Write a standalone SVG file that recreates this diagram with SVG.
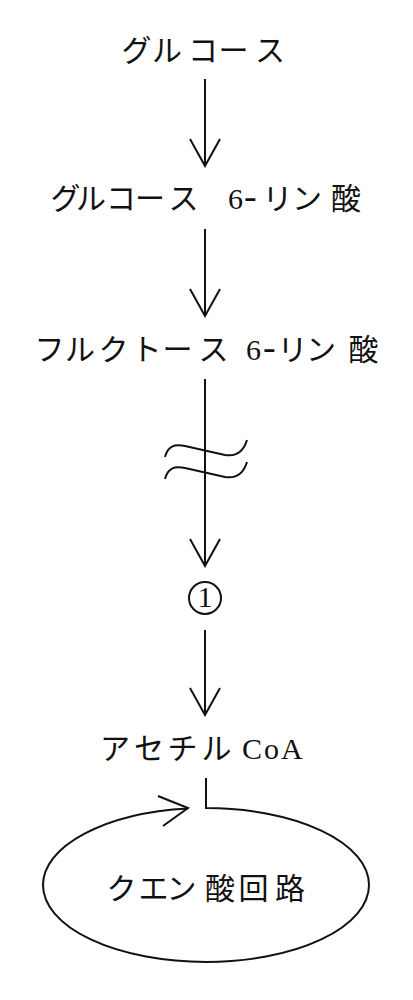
<svg xmlns="http://www.w3.org/2000/svg" width="413" height="1000" viewBox="0 0 413 1000">
<style>
.t{font-family:"Liberation Serif","Noto Sans CJK JP",serif;font-size:30px;fill:#111}
.c{fill:none;stroke:#111;stroke-width:2}
.h{font-size:38px}
</style>
<defs>
<marker id="v" viewBox="-30 -17 32 34" refX="0" refY="0" markerWidth="32" markerHeight="34" markerUnits="userSpaceOnUse" orient="auto">
<path d="M-27,-15 L0,0 L-27,15" fill="none" stroke="#111" stroke-width="2"/>
</marker>
</defs>
<rect width="413" height="1000" fill="#fff"/>
<g id="glucose"><text class="t" x="121.5 152 188 218.5 255" y="61">グルコース</text></g>
<g id="g6p"><text class="t" x="50.5 76 106 135 168.5 200 228" y="209">グルコース 6<tspan class="h" x="244">-</tspan><tspan x="262.5 292 331">リン酸</tspan></text></g>
<g id="f6p"><text class="t" x="34.5 65 98.5 131.5 162.5 198.5 228 246" y="360">フルクトース 6<tspan class="h" x="263">-</tspan><tspan x="277.5 306 348.5">リン酸</tspan></text></g>
<g id="n1"><circle cx="205" cy="598" r="16" class="c" stroke-width="1.5"/><text class="t" x="205" y="607" font-size="24" text-anchor="middle">1</text></g>
<g id="acetyl"><text class="t" x="100 134 167.5 201.5 230 242 264 281" y="759">アセチル CoA</text></g>
<g id="tca"><text class="t" x="106.5 138.5 166.5 205 238.5 275" y="899">クエン酸回路</text></g>
<g id="connectors">
<line class="c" x1="205" y1="79" x2="205" y2="166" marker-end="url(#v)"/>
<line class="c" x1="205" y1="229" x2="205" y2="316" marker-end="url(#v)"/>
<line class="c" x1="205" y1="379" x2="205" y2="566" marker-end="url(#v)"/>
<path class="c" d="M165,457 C168,446 174,444 185,446 L225,455 C238,457 244,450 247,440"/>
<path class="c" d="M165,479 C168,468 174,466 185,468 L225,477 C238,479 244,472 247,462"/>
<line class="c" x1="205" y1="630" x2="205" y2="715" marker-end="url(#v)"/>
<path class="c" d="M206,778 L206,808 A163,77 0 0 1 369,885 A163,77 0 0 1 206,962 A163,77 0 0 1 43,885 A163,77 0 0 1 188,808.5"/>
<path class="c" d="M158,796 L188,808 L163,826"/>
</g>
</svg>
